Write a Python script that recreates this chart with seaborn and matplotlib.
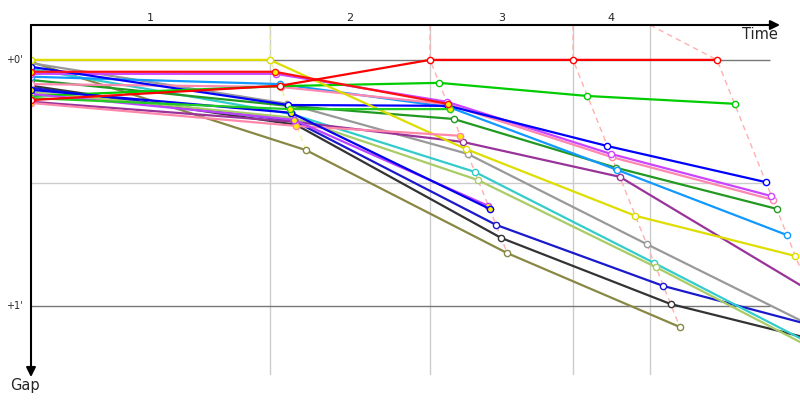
import matplotlib
matplotlib.use('Agg')
import matplotlib.pyplot as plt
import seaborn as sns
import pandas as pd

# Drivers in drawing order (later ones end up on top)
drivers = ['olive', 'gray', 'black', 'navy', 'cyan', 'lightgreen', 'purple', 'darkgreen',
           'skyblue', 'pink', 'magenta', 'blue', 'green', 'yellow',
           'pink2', 'violet2', 'blue2', 'green2', 'red2', 'red']
colors = ['#888844', '#999999', '#333333', '#1a1acc', '#33cccc', '#aacc66', '#993399', '#229922',
          '#1199ff', '#ff88b0', '#cc44ff', '#0000ff', '#00cc00', '#dddd00',
          '#ff88aa', '#bb44ff', '#0000ee', '#22cc22', '#ff1010', '#ff0000']
yellow_fill = [False] * 14 + [True] * 5 + [False]

# Gap to the leader (seconds) at the start and at each lap; None = no more laps
start_gap = [0.5, 0.8, 6.3, 6.8, 2.2, 7.8, 10.2, 4.9,
             4.1, 5.9, 3.4, 1.7, 8.8, 0.0,
             10.5, 8.3, 7.3, 9.3, 2.9, 9.8]
lap1_gap = [22.0, 10.7, 15.8, 14.9, 13.2, 14.1, 15.1, 11.2,
            5.9, 6.6, 3.4, 11.0, 6.4, 0.0,
            16.1, 14.6, 12.9, 12.0, 2.9, 6.3]
lap2_gap = [47.1, 22.9, 43.4, 40.2, 27.3, 29.3, 20.0, 14.4,
            11.5, 10.8, 10.2, 11.2, 5.6, 21.7,
            18.5, 35.6, 36.3, 12.0, 10.7, 0.0]
lap3_gap = [65.1, 44.9, 59.5, 55.1, 49.5, 50.5, 28.5, 26.3,
            26.8, 23.7, 22.9, 21.0, 8.8, 38.0,
            None, None, None, None, None, 0.0]
lap4_gap = [None, 66.6, 69.2, 65.5, 72.3, 73.5, 56.2, 36.3,
            42.7, 34.1, 33.2, 29.8, 10.7, 47.8,
            None, None, None, None, None, 0.0]

leader_lap_time = [145.7, 243.3, 330.5, 418.3]
lap_marks = [145.7, 243.3, 330.5, 377.4]
lap_labels = ['1', '2', '3', '4']
lap_line_colors = ['#f2f2a0', '#ffb0b0', '#ffb0b0', '#ffb0b0']
gap_ticks = [0, 60]
gap_tick_labels = ["+0'", "+1'"]

x_max, grid_end = 468.9, 450.6
y_top, y_bottom = -8.5, 76.8

sns.set_style('white')
plt.rcParams['font.family'] = ['DejaVu Sans']

rows = []
laps = [lap1_gap, lap2_gap, lap3_gap, lap4_gap]
for i, d in enumerate(drivers):
    rows.append({'driver': d, 'lap': 0, 'time': 0.0, 'gap': start_gap[i]})
    for n, gaps in enumerate(laps, start=1):
        if gaps[i] is None:
            continue
        rows.append({'driver': d, 'lap': n, 'time': leader_lap_time[n - 1] + gaps[i], 'gap': gaps[i]})
df = pd.DataFrame(rows)

fig = plt.figure(figsize=(8, 4), dpi=100)
ax = fig.add_axes([31 / 800, 25 / 400, 769 / 800, 350 / 400])

# grid
ax.vlines(lap_marks, y_top, y_bottom, color='#cccccc', lw=1, zorder=0)
ax.hlines(30, 0, grid_end, color='#cccccc', lw=1, zorder=0)
ax.hlines(gap_ticks, 0, grid_end, color='#777777', lw=1, zorder=0)

# lap lines joining the drivers' crossings of the same lap
for n in range(1, 5):
    sub = df[df.lap == n].sort_values('gap')
    xs = [lap_marks[n - 1]] + list(sub.time)
    ys = [y_top] + list(sub.gap)
    ax.plot(xs, ys, ls=(0, (4, 3)), color=lap_line_colors[n - 1], lw=1, zorder=1)

# drivers
for i, d in enumerate(drivers):
    sub = df[df.driver == d]
    sns.lineplot(data=sub, x='time', y='gap', sort=False, estimator=None, ax=ax,
                 color=colors[i], lw=1.6, marker='o', markersize=4.5,
                 markerfacecolor='#ffee00' if yellow_fill[i] else 'white',
                 markeredgecolor=colors[i], markeredgewidth=1, zorder=2 + i * 0.01)

ax.set_xlim(0, x_max)
ax.set_ylim(y_bottom, y_top)
ax.set_axis_off()

# axes arrows
arrow = dict(arrowstyle='-|>', color='black', lw=1.5, mutation_scale=14, shrinkA=0, shrinkB=0)
ax.annotate('', xy=(0.974, 1), xytext=(0, 1), xycoords='axes fraction', arrowprops=arrow,
            annotation_clip=False)
ax.annotate('', xy=(0, -0.006), xytext=(0, 1), xycoords='axes fraction', arrowprops=arrow,
            annotation_clip=False)

# labels
bounds = [0] + lap_marks
for k, lab in enumerate(lap_labels):
    ax.text((bounds[k] + bounds[k + 1]) / 2, -10.2, lab, ha='center', va='center', fontsize=8)
for g, lab in zip(gap_ticks, gap_tick_labels):
    ax.text(-4.9, g, lab, ha='right', va='center', fontsize=7)
ax.text(444.5, -6.1, 'Time', ha='center', va='center', fontsize=10.5)
ax.text(-3.7, 79.3, 'Gap', ha='center', va='center', fontsize=10.5)

fig.savefig('out.png', dpi=100)
